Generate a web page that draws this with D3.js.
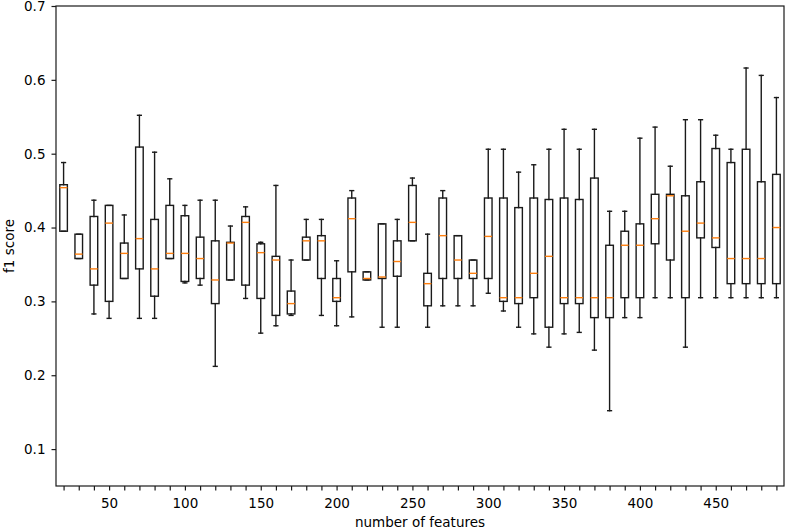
<!DOCTYPE html>
<html>
<head>
<meta charset="utf-8">
<script src="https://cdn.jsdelivr.net/npm/d3@7"></script>
<style>
  html, body { margin: 0; padding: 0; background: #fff; }
  svg { display: block; }
  text { font-family: "DejaVu Sans", sans-serif; fill: #000; }
</style>
</head>
<body>
<svg id="chart" width="786" height="529"></svg>
<script>
// ---- data ----
const features = [20,30,40,50,60,70,80,90,100,110,120,130,140,150,160,170,180,190,200,210,220,230,240,250,260,270,280,290,300,310,320,330,340,350,360,370,380,390,400,410,420,430,440,450,460,470,480,490];
const whiskLow = [.395,.358,.283,.277,.331,.277,.277,.358,.325,.322,.212,.329,.304,.257,.267,.281,.356,.281,.267,.279,.329,.265,.265,.382,.265,.294,.294,.294,.311,.287,.265,.256,.238,.256,.258,.234,.152,.278,.278,.305,.305,.238,.305,.305,.305,.305,.305,.305];
const q1 =       [.395,.358,.322,.300,.331,.344,.307,.358,.327,.331,.297,.329,.322,.304,.281,.283,.356,.331,.300,.340,.329,.331,.334,.382,.294,.331,.331,.331,.331,.300,.297,.305,.265,.297,.297,.278,.278,.305,.305,.378,.356,.305,.386,.373,.324,.324,.324,.324];
const median =   [.454,.364,.344,.406,.365,.385,.344,.365,.365,.358,.329,.379,.407,.366,.356,.297,.382,.382,.305,.412,.331,.333,.354,.407,.324,.389,.356,.338,.388,.305,.305,.338,.361,.305,.305,.305,.305,.376,.376,.412,.443,.395,.406,.386,.358,.358,.358,.400];
const q3 =       [.458,.391,.415,.430,.379,.509,.411,.430,.416,.387,.382,.380,.415,.378,.361,.314,.387,.389,.331,.440,.340,.405,.382,.457,.338,.440,.389,.356,.440,.440,.427,.440,.438,.440,.438,.467,.376,.395,.405,.445,.445,.443,.462,.507,.488,.506,.462,.472];
const whiskHigh =[.488,.391,.437,.430,.417,.552,.502,.466,.430,.437,.437,.402,.428,.380,.457,.356,.411,.411,.355,.450,.340,.405,.411,.467,.391,.450,.389,.356,.506,.506,.475,.485,.506,.533,.506,.533,.422,.422,.521,.536,.483,.546,.546,.525,.506,.616,.606,.576];
const yTicks = [0.1,0.2,0.3,0.4,0.5,0.6,0.7];
const xLabelTicks = [50,100,150,200,250,300,350,400,450];
const xLabel = "number of features";
const yLabel = "f1 score";

// ---- layout ----
const svg = d3.select("#chart");
const L = 56, R = 784, T = 6, B = 486;
const x = d3.scaleLinear().domain([15, 495]).range([L, R]);
const y = d3.scaleLinear().domain([0.05, 0.7]).range([B, T]);
const step = x(30) - x(20);
const boxW = step * 0.5, capW = step * 0.25;
const FS = 13.5;
const SW = 1.4, INK = "#1a1a1a";

const rows = features.map((f, i) => ({f, lo: whiskLow[i], q1: q1[i], med: median[i], q3: q3[i], hi: whiskHigh[i]}));

const g = svg.append("g");
const bx = g.selectAll("g.box").data(rows).join("g").attr("class", "box");
const line = (sel, x1, y1, x2, y2, col) => sel.append("line")
  .attr("x1", x1).attr("y1", y1).attr("x2", x2).attr("y2", y2)
  .attr("stroke", col || INK).attr("stroke-width", SW).attr("stroke-linecap", "square");

bx.each(function(d) {
  const s = d3.select(this);
  const cx = x(d.f);
  if (d.hi > d.q3) line(s, cx, y(d.q3), cx, y(d.hi));
  if (d.lo < d.q1) line(s, cx, y(d.q1), cx, y(d.lo));
  line(s, cx - capW/2, y(d.hi), cx + capW/2, y(d.hi));
  line(s, cx - capW/2, y(d.lo), cx + capW/2, y(d.lo));
  s.append("rect").attr("x", cx - boxW/2).attr("y", y(d.q3))
    .attr("width", boxW).attr("height", Math.max(0.5, y(d.q1) - y(d.q3)))
    .attr("fill", "none").attr("stroke", INK).attr("stroke-width", SW);
  s.append("line").attr("x1", cx - boxW/2).attr("x2", cx + boxW/2)
    .attr("y1", y(d.med)).attr("y2", y(d.med))
    .attr("stroke", "#ff7f0e").attr("stroke-width", SW);
});

// frame
svg.append("rect").attr("x", L).attr("y", T).attr("width", R - L).attr("height", B - T)
  .attr("fill", "none").attr("stroke", INK).attr("stroke-width", 1.2);

// axes
const xAxis = d3.axisBottom(x).tickValues(features)
  .tickFormat(v => xLabelTicks.includes(v) ? String(v) : "")
  .tickSizeInner(4.5).tickSizeOuter(0).tickPadding(8);
const gx = svg.append("g").attr("transform", `translate(0,${B})`).call(xAxis);
gx.select(".domain").remove();
gx.selectAll("text").style("font-size", FS + "px").attr("fill", "#000");
gx.selectAll("line").attr("stroke", INK).attr("stroke-width", 1.2);

const yAxis = d3.axisLeft(y).tickValues(yTicks).tickFormat(d3.format(".1f"))
  .tickSizeInner(4.5).tickSizeOuter(0).tickPadding(6);
const gy = svg.append("g").attr("transform", `translate(${L},0)`).call(yAxis);
gy.select(".domain").remove();
gy.selectAll("text").style("font-size", FS + "px").attr("fill", "#000");
gy.selectAll("line").attr("stroke", INK).attr("stroke-width", 1.2);

// labels
svg.append("text").attr("x", (L + R) / 2).attr("y", 527).attr("text-anchor", "middle")
  .style("font-size", FS + "px").text(xLabel);
svg.append("text").attr("transform", "rotate(-90)").attr("x", -(T + B) / 2).attr("y", 14)
  .attr("text-anchor", "middle").style("font-size", FS + "px").text(yLabel);
</script>
</body>
</html>
